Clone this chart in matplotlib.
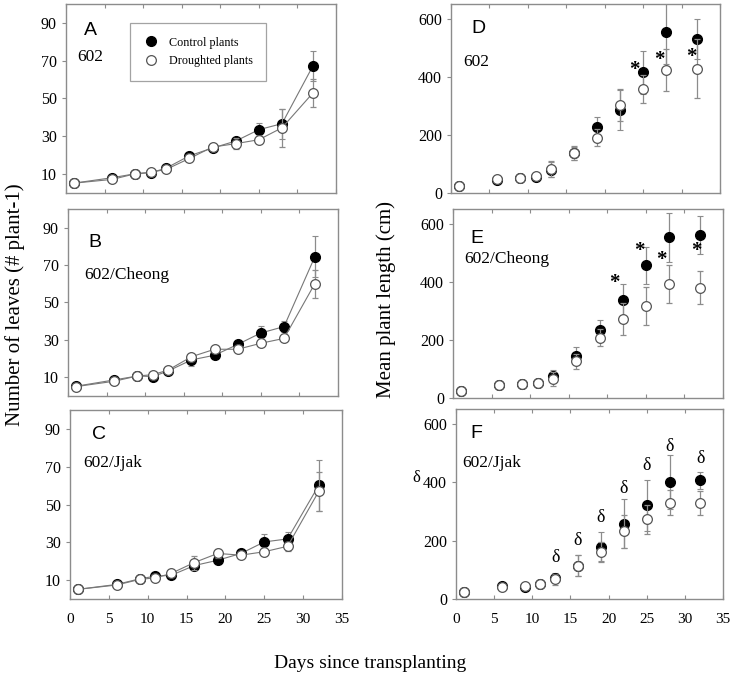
import matplotlib
matplotlib.use("Agg")
import matplotlib.pyplot as plt
from matplotlib.lines import Line2D
import numpy as np

plt.rcParams['font.family'] = ['Liberation Serif', 'DejaVu Serif']

days = [1, 6, 9, 11, 13, 16, 19, 22, 25, 28, 32]

# Leaf number (left column)
A_ctrl = [5.2, 8.1, 10.2, 10.7, 13.2, 19.7, 23.8, 27.5, 33.5, 36.7, 67.2]
A_ctrl_err = [0.3, 0.5, 0.5, 0.5, 0.5, 0.8, 0.5, 1.0, 3.5, 8.0, 8.0]
A_drt = [5.2, 7.2, 10.2, 11.0, 12.5, 18.3, 24.3, 26.1, 28.2, 34.5, 52.9]
A_drt_err = [0.3, 0.5, 0.5, 0.5, 0.5, 0.8, 0.5, 3.0, 2.0, 10.0, 7.5]

B_ctrl = [5.2, 8.6, 10.7, 10.4, 13.4, 19.3, 21.8, 27.6, 33.7, 37.1, 74.5]
B_ctrl_err = [0.3, 0.5, 0.5, 0.5, 0.8, 3.0, 0.8, 1.0, 4.0, 3.0, 11.0]
B_drt = [5.0, 7.9, 10.7, 11.4, 13.9, 21.0, 25.0, 25.0, 28.2, 30.8, 60.1]
B_drt_err = [0.3, 0.5, 0.5, 0.5, 0.5, 0.8, 0.5, 0.8, 1.0, 1.0, 7.5]

C_ctrl = [5.1, 7.7, 10.7, 12.1, 12.5, 17.7, 20.5, 24.1, 30.2, 31.8, 60.1]
C_ctrl_err = [0.3, 0.5, 0.5, 0.5, 0.5, 0.8, 2.0, 1.5, 4.0, 3.5, 13.5]
C_drt = [5.1, 7.4, 10.4, 11.2, 13.5, 19.3, 24.1, 23.2, 25.0, 27.9, 56.9]
C_drt_err = [0.3, 0.5, 0.5, 0.5, 0.5, 3.7, 2.5, 1.0, 1.0, 2.5, 10.5]

# Plant length (right column)
D_ctrl = [24, 46, 50, 56, 80, 137, 226, 285, 415, 555, 530]
D_ctrl_err = [3, 4, 4, 5, 25, 22, 34, 70, 75, 110, 70]
D_drt = [25, 47, 51, 57, 83, 138, 190, 303, 357, 424, 427]
D_drt_err = [3, 4, 4, 5, 28, 23, 29, 54, 49, 72, 102]

E_ctrl = [24, 46, 48, 51, 77, 145, 234, 337, 457, 552, 561]
E_ctrl_err = [3, 4, 4, 4, 20, 29, 35, 55, 64, 84, 66]
E_drt = [24, 46, 48, 51, 66, 126, 208, 272, 317, 392, 380]
E_drt_err = [3, 4, 4, 4, 25, 26, 30, 54, 66, 65, 56]

F_ctrl = [25, 45, 42, 51, 73, 114, 179, 258, 320, 401, 406]
F_ctrl_err = [3, 4, 4, 4, 17, 35, 50, 84, 88, 92, 30]
F_drt = [25, 42, 46, 51, 67, 114, 161, 231, 272, 330, 328]
F_drt_err = [3, 4, 4, 4, 19, 36, 34, 55, 49, 42, 41]

# significance marks
D_star_x = [23.9, 27.1, 31.3]
D_star_y = [423, 458, 467]
E_star_x = [20.9, 24.2, 27.0, 31.5]
E_star_y = [394, 506, 474, 504]
F_delta_x = [13, 16, 19, 22, 25, 28, 32]
F_delta_y = [142, 200, 279, 378, 456, 522, 480]

panels_left = [("A", "602", A_ctrl, A_ctrl_err, A_drt, A_drt_err),
               ("B", "602/Cheong", B_ctrl, B_ctrl_err, B_drt, B_drt_err),
               ("C", "602/Jjak", C_ctrl, C_ctrl_err, C_drt, C_drt_err)]
panels_right = [("D", "602", D_ctrl, D_ctrl_err, D_drt, D_drt_err),
                ("E", "602/Cheong", E_ctrl, E_ctrl_err, E_drt, E_drt_err),
                ("F", "602/Jjak", F_ctrl, F_ctrl_err, F_drt, F_drt_err)]

W, H = 735, 677
fig = plt.figure(figsize=(W / 100, H / 100), dpi=100)

def rect(l, t, r, b):
    return [l / W, 1 - b / H, (r - l) / W, (b - t) / H]

left_rects = [rect(66, 4, 336, 193), rect(68, 209, 338, 396), rect(70, 410, 342, 599)]
right_rects = [rect(451, 4, 720, 193), rect(453, 209, 723, 398), rect(456, 409, 723, 599)]

letter_pos_left = [(0.067, 0.86), (0.077, 0.82), (0.082, 0.87)]
sub_pos_left = [(0.04, 0.72), (0.06, 0.647), (0.048, 0.72)]
letter_pos_right = [(0.077, 0.87), (0.064, 0.845), (0.052, 0.87)]
sub_pos_right = [(0.044, 0.695), (0.042, 0.735), (0.024, 0.714)]

spine_col = '#8c8c8c'
err_col = '#8c8c8c'

def style(ax, ylim, yticks, show_x):
    ax.set_xlim(0, 35)
    ax.set_ylim(*ylim)
    ax.set_yticks(yticks)
    ax.set_xticks(np.arange(0, 36, 5))
    for s in ax.spines.values():
        s.set_color(spine_col)
        s.set_linewidth(1.0)
    ax.tick_params(axis='x', direction='in', top=True, length=3, color=spine_col,
                   labelsize=11, pad=10, labelbottom=show_x)
    ax.tick_params(axis='y', direction='out', length=3, color=spine_col, labelsize=11.5)

def draw(ax, days, c, ce, d, de, line):
    ls = '-' if line else 'none'
    ax.errorbar(days, c, yerr=ce, fmt='o', ls=ls, color='#777777', lw=0.8,
                ecolor=err_col, elinewidth=0.9, capsize=2.5, capthick=0.8,
                mfc='black', mec='black', ms=7, zorder=3)
    ax.errorbar(days, d, yerr=de, fmt='o', ls=ls, color='#777777', lw=0.8,
                ecolor=err_col, elinewidth=0.9, capsize=2.5, capthick=0.8,
                mfc='white', mec='#555555', mew=0.9, ms=7, zorder=4)

axes_left = []
for i, (let, sub, c, ce, d, de) in enumerate(panels_left):
    ax = fig.add_axes(left_rects[i])
    draw(ax, days, c, ce, d, de, True)
    style(ax, (0, 100), [10, 30, 50, 70, 90], i == 2)
    ax.text(*letter_pos_left[i], let, transform=ax.transAxes, fontsize=14,
            family=['Liberation Sans', 'DejaVu Sans'], ha='left', va='center')
    ax.text(*sub_pos_left[i], sub, transform=ax.transAxes, fontsize=12.5,
            ha='left', va='center')
    axes_left.append(ax)

handles = [Line2D([], [], ls='none', marker='o', ms=7, mfc='black', mec='black'),
           Line2D([], [], ls='none', marker='o', ms=7, mfc='white', mec='#555555', mew=0.9)]
leg = axes_left[0].legend(handles, ['Control plants', 'Droughted plants'],
                          loc='upper left', bbox_to_anchor=(0.215, 0.93),
                          fontsize=8.7, frameon=True, fancybox=False,
                          edgecolor=spine_col, borderpad=1.1, handletextpad=0.9,
                          labelspacing=0.55, handlelength=1.2)
leg.get_frame().set_linewidth(0.9)

axes_right = []
for i, (let, sub, c, ce, d, de) in enumerate(panels_right):
    ax = fig.add_axes(right_rects[i])
    draw(ax, days, c, ce, d, de, False)
    style(ax, (0, 650), [0, 200, 400, 600], i == 2)
    ax.text(*letter_pos_right[i], let, transform=ax.transAxes, fontsize=14,
            family=['Liberation Sans', 'DejaVu Sans'], ha='left', va='center')
    ax.text(*sub_pos_right[i], sub, transform=ax.transAxes, fontsize=12.5,
            ha='left', va='center')
    axes_right.append(ax)

for x, y in zip(D_star_x, D_star_y):
    axes_right[0].text(x, y, '*', fontsize=15, fontweight='bold', ha='center', va='center')
for x, y in zip(E_star_x, E_star_y):
    axes_right[1].text(x, y, '*', fontsize=15, fontweight='bold', ha='center', va='center')
for x, y in zip(F_delta_x, F_delta_y):
    axes_right[2].text(x, y, 'δ', fontsize=13, ha='center', va='center')
# stray glyph next to the 400 tick in panel F
axes_right[2].text(-0.15, 400 / 650 + 0.02, 'δ', transform=axes_right[2].transAxes,
                   fontsize=12, ha='center', va='center')

fig.text(15 / W, 1 - 305 / H, 'Number of leaves (# plant-1)', rotation=90,
         fontsize=15, ha='center', va='center')
fig.text(386 / W, 1 - 300 / H, 'Mean plant length (cm)', rotation=90,
         fontsize=15, ha='center', va='center')
fig.text(370 / W, 1 - 663 / H, 'Days since transplanting', fontsize=14,
         ha='center', va='center')

fig.savefig('out.png', dpi=100)
